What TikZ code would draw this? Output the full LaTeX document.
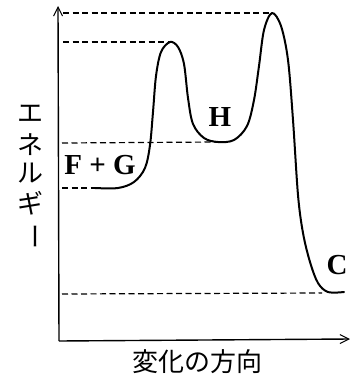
\documentclass[tikz,border=0pt]{standalone}
\usepackage{fontspec}
\setmainfont{Liberation Serif}
\newfontfamily\jp{Noto Sans CJK JP}
\usetikzlibrary{arrows.meta}
\begin{document}
\begin{tikzpicture}[x=1pt,y=-1pt,
  axis/.style={line width=1.4pt,-{Straight Barb[length=9pt,width=9pt,line width=1pt]}},
  guide/.style={line width=1.2pt,dash pattern=on 6pt off 3.5pt},
  curve/.style={line width=2pt,line cap=round,line join=round},
  lbl/.style={font=\fontsize{29}{29}\bfseries\selectfont,inner sep=0pt},
  jpl/.style={font=\jp\fontsize{26}{26}\selectfont,inner sep=0pt},
  jpx/.style={font=\jp\fontsize{26}{26}\selectfont,inner sep=0pt}]
\useasboundingbox (0,0) rectangle (349,383);
% axes
\coordinate (O) at (59,341);
\coordinate (Ytop) at (58,6);
\coordinate (Xend) at (350,339);
\draw[axis] (O) -- (Ytop);
\draw[axis] (O) -- (Xend);
% key points
\coordinate (FG) at (95,188);
\coordinate (P1) at (170,42);
\coordinate (Hm) at (218,142);
\coordinate (P2) at (272,13);
\coordinate (Cm) at (322,293);
% guide lines
\draw[guide] (63,13) -- (P2);
\draw[guide] (63,42) -- (P1);
\draw[guide] (62,143) -- (Hm);
\draw[guide] (62,188) -- (FG);
\draw[guide] (62,294) -- (Cm);
% energy curve
\draw[curve] plot[smooth,tension=0.55] coordinates {
 (FG) (118,188) (134,182) (145,168) (150,145) (153,112) (156,76) (161,52) (170,42)
 (178,47) (184,64) (188,98) (193,124) (204,138) (218,142) (234,140) (247,126)
 (254,100) (259,66) (264,30) (272,13) (281,26) (288,60) (293,120) (298,195)
 (303,233) (310,262) (318,283) (328,292) (344,292)};
% labels
\node[lbl] (fg) at (100,165) {F + G};
\node[lbl] (h) at (220,117) {H};
\node[lbl] (c) at (337,265) {C};
% axis titles
\node[jpl] (e1) at (30,114) {エ};
\node[jpl] (e2) at (30,145) {ネ};
\node[jpl] (e3) at (30,173) {ル};
\node[jpl] (e4) at (30,203) {ギ};
\node[jpl,rotate=-90] (e5) at (31,236) {ー};
\node[jpx] (xl) at (197,362) {変化の方向};
\end{tikzpicture}
\end{document}
